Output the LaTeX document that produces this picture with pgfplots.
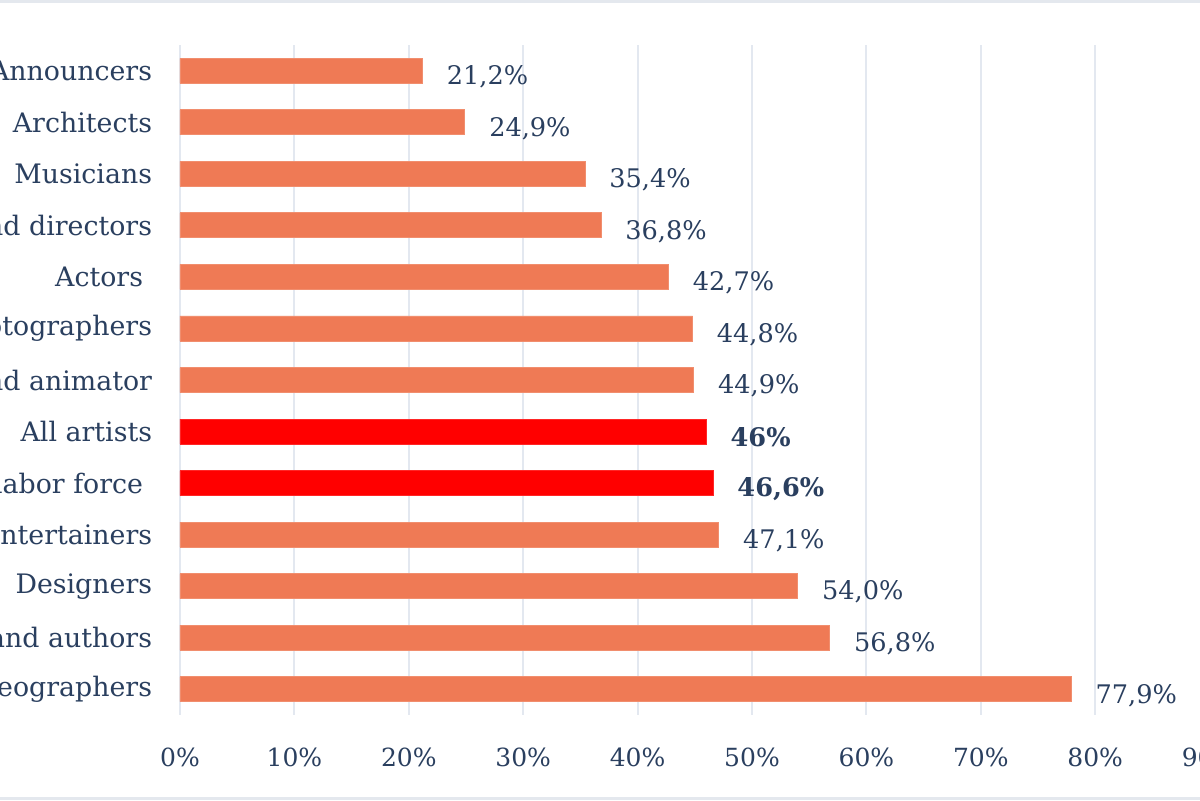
\documentclass[border=0pt]{standalone}
\usepackage{fontspec}
\setmainfont{DejaVu Serif}
\usepackage{pgfplots}
\pgfplotsset{compat=1.18}

\definecolor{coral}{RGB}{239,122,85}
\definecolor{txt}{RGB}{42,63,95}
\definecolor{gridc}{RGB}{227,232,240}
\definecolor{framec}{RGB}{228,232,238}

\begin{document}
\begin{tikzpicture}
\useasboundingbox (0,0) rectangle (600pt,400pt);
\clip (0,0) rectangle (600pt,400pt);
\fill[white] (0,0) rectangle (600pt,400pt);

\begin{axis}[
    at={(90pt,42.5pt)}, anchor=south west,
    scale only axis,
    width=514.8pt, height=335pt,
    xbar, bar width=12.5pt, bar shift=0pt,
    xmin=0, xmax=90,
    ymin=-0.5, ymax=12.5,
    y dir=reverse,
    /pgf/number format/assume math mode=true,
    xtick={0,10,...,90},
    xticklabel={\pgfmathprintnumber{\tick}\%},
    ytick={0,...,12},
    yticklabels={Announcers, Architects, Musicians, Producers and directors,
        Actors\kern4.5pt, Photographers, Multimedia artists and animator, All artists,
        Total labor force\kern4.5pt, Entertainers, Designers, Writers and authors,
        Dancers and choreographers},
    xmajorgrids=true,
    major grid style={gridc, line width=1pt},
    axis line style={draw=none},
    tick style={draw=none},
    xticklabel style={anchor=center, yshift=-21pt, font=\fontsize{12.5}{15}\selectfont, text=txt},
    yticklabel style={anchor=east, inner sep=0pt, xshift=-9.5pt, font=\fontsize{13.4}{16}\selectfont, text=txt},
    nodes near coords,
    point meta=explicit symbolic,
    every node near coord/.style={anchor=west, inner sep=0pt, xshift=12pt, yshift=-3pt,
        font=\fontsize{12.8}{15}\selectfont, text=txt},
]

% regular occupations
\addplot[fill=coral, draw=coral!85!white, line width=0.4pt] coordinates {
    (21.2,0) [21,2\%]
    (24.9,1) [24,9\%]
    (35.4,2) [35,4\%]
    (36.8,3) [36,8\%]
    (42.7,4) [42,7\%]
    (44.8,5) [44,8\%]
    (44.9,6) [44,9\%]
    (47.1,9) [47,1\%]
    (54.0,10) [54,0\%]
    (56.8,11) [56,8\%]
    (77.9,12) [77,9\%]
};

% highlighted reference groups
\addplot[fill=red, draw=red!85!white, line width=0.4pt,
    every node near coord/.append style={font=\fontsize{12.8}{15}\selectfont\bfseries}] coordinates {
    (46.0,7) [46\%]
    (46.6,8) [46,6\%]
};

\end{axis}

\fill[framec] (0,398.5pt) rectangle (600pt,400pt);
\fill[framec] (0,0) rectangle (600pt,1.5pt);
\end{tikzpicture}
\end{document}
